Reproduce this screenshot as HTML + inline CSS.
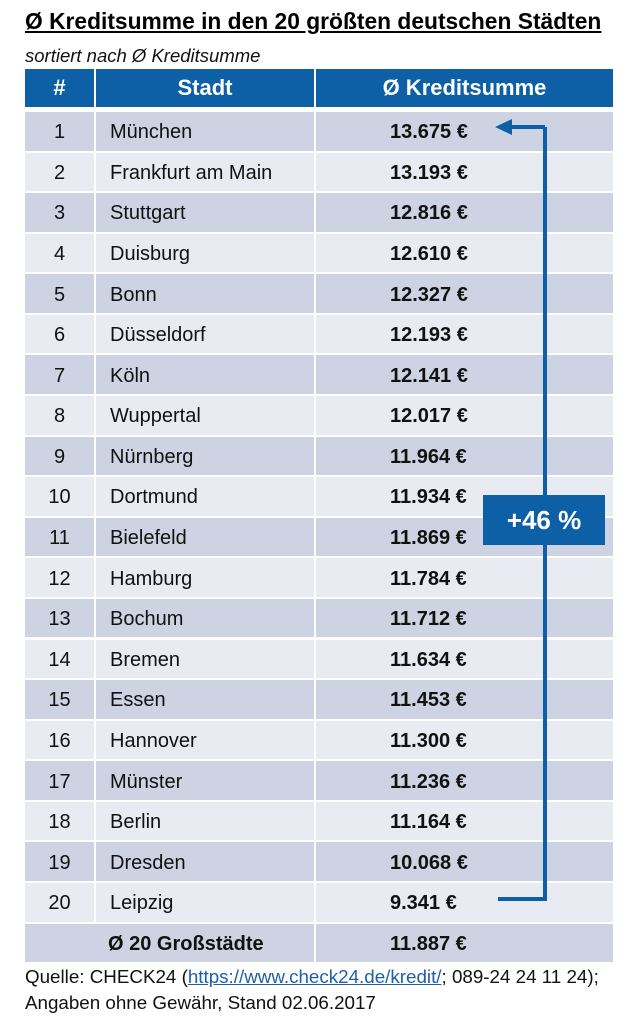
<!DOCTYPE html>
<html><head><meta charset="utf-8">
<style>
body{margin:0;width:630px;height:1026px;background:#fff;position:relative;font-family:"Liberation Sans",sans-serif;overflow:hidden}
.a{position:absolute}
.c{position:absolute;display:flex;align-items:center;font-size:20px;color:#111;box-sizing:border-box;padding-top:3px}
</style></head><body>
<div class="a" style="left:25px;top:8px;font-size:22.8px;font-weight:bold;text-decoration:underline;color:#000;white-space:nowrap">Ø Kreditsumme in den 20 größten deutschen Städten</div>
<div class="a" style="left:25px;top:45px;font-size:18.5px;font-style:italic;color:#111">sortiert nach Ø Kreditsumme</div>
<div id="tbl"></div>
<svg class="a" style="left:0;top:0" width="630" height="1026">
<path d="M545 127 V899 H498" fill="none" stroke="#0d5fa6" stroke-width="4"/>
<path d="M545 127 H510" fill="none" stroke="#0d5fa6" stroke-width="4"/>
<polygon points="495,127 512,119 512,135" fill="#0d5fa6"/>
</svg>
<div class="a" style="left:483px;top:495px;width:122px;height:50px;background:#0d5fa6;color:#fff;font-weight:bold;font-size:26px;display:flex;align-items:center;justify-content:center">+46 %</div>
<div class="a" style="left:25px;top:964px;font-size:18.8px;line-height:26px;color:#111;white-space:nowrap">Quelle: CHECK24 (<span style="color:#1f5fa8;text-decoration:underline">https://www.check24.de/kredit/</span>; 089-24 24 11 24);<br>Angaben ohne Gewähr, Stand 02.06.2017</div>
<script>
const cities=["München","Frankfurt am Main","Stuttgart","Duisburg","Bonn","Düsseldorf","Köln","Wuppertal","Nürnberg","Dortmund","Bielefeld","Hamburg","Bochum","Bremen","Essen","Hannover","Münster","Berlin","Dresden","Leipzig"];
const values=["13.675 €","13.193 €","12.816 €","12.610 €","12.327 €","12.193 €","12.141 €","12.017 €","11.964 €","11.934 €","11.869 €","11.784 €","11.712 €","11.634 €","11.453 €","11.300 €","11.236 €","11.164 €","10.068 €","9.341 €"];
const avgLabel="Ø 20 Großstädte", avgValue="11.887 €";
const t=document.getElementById('tbl');
function cell(x,y,w,h,txt,bg,name,opts){
  const d=document.createElement('div');d.className='c';
  
  
  d.style.cssText+=`left:${x}px;top:${y}px;width:${w}px;height:${h}px;background:${bg};`+(opts||'');
  d.textContent=txt;t.appendChild(d);
}
const hb='#0d5fa6',hs='color:#fff;font-weight:bold;font-size:22px;justify-content:center;padding-top:0;';
cell(25,69,69,38,'#',hb,'header-rank',hs);
cell(96,69,218,38,'Stadt',hb,'header-city',hs);
cell(316,69,297,38,'Ø Kreditsumme',hb,'header-amount',hs);
const rh=40.58,y0=112;
for(let i=0;i<21;i++){
  const y=y0+i*rh,h=38.5,bg=(i%2==0)?'#cdd3e2':'#e8ebf2';
  if(i<20){
    cell(25,y,69,h,String(i+1),bg,'rank-cell','justify-content:center;');
    cell(96,y,218,h,cities[i],bg,'city-cell','padding-left:14px;');
    cell(316,y,297,h,values[i],bg,'amount-cell','font-weight:bold;padding-left:74px;');
  }else{
    cell(25,y,289,h,avgLabel,'#cdd3e2','average-label','font-weight:bold;padding-left:83px;');
    cell(316,y,297,h,avgValue,'#cdd3e2','average-amount','font-weight:bold;padding-left:74px;');
  }
}
</script>
</body></html>
